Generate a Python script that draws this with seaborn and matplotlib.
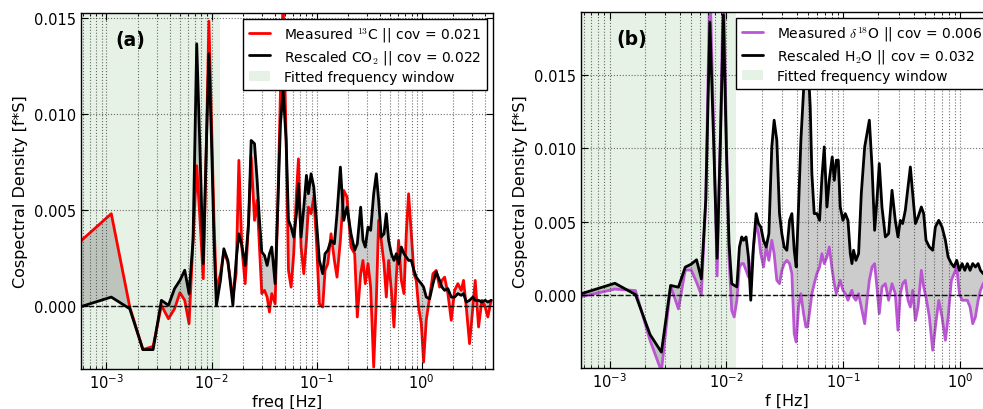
import numpy as np
import pandas as pd
import matplotlib
matplotlib.use('Agg')
import matplotlib.pyplot as plt
from matplotlib.patches import Patch
from matplotlib.lines import Line2D
from matplotlib.ticker import FormatStrFormatter, LogLocator, NullFormatter
import seaborn as sns

# --- data (log10 of frequency in Hz, cospectral density f*S) ---
log_f_a = [
    -3.255, -2.954, -2.778, -2.653, -2.556, -2.477, -2.410, -2.352, -2.301, -2.255,
    -2.214, -2.176, -2.141, -2.109, -2.079, -2.051, -2.025, -2.000, -1.977, -1.954,
    -1.915, -1.883, -1.845, -1.797, -1.766, -1.740, -1.712, -1.680, -1.648, -1.623,
    -1.591, -1.566, -1.544, -1.522, -1.496, -1.471, -1.449, -1.427, -1.395, -1.370,
    -1.344, -1.319, -1.290, -1.268, -1.243, -1.218, -1.192, -1.173, -1.148, -1.122,
    -1.097, -1.078, -1.053, -1.027, -1.002, -0.974, -0.942, -0.920, -0.894, -0.863,
    -0.831, -0.806, -0.774, -0.742, -0.711, -0.673,
    -0.638, -0.613, -0.581, -0.559, -0.537, -0.511, -0.486, -0.457, -0.432, -0.410,
    -0.385, -0.359, -0.337, -0.315, -0.289, -0.264, -0.242, -0.220, -0.194, -0.169,
    -0.147, -0.125, -0.099, -0.074, -0.052, -0.030, -0.004, 0.018, 0.043, 0.075,
    0.107, 0.138, 0.170, 0.192, 0.218, 0.249, 0.281, 0.313, 0.344, 0.376,
    0.398, 0.424, 0.455, 0.487, 0.509, 0.541, 0.572, 0.604, 0.629, 0.661]

c13_measured = [
    0.00332, 0.0048, -0.00007, -0.00229, -0.00212, 0.00002, -0.00068, -0.00016, 0.00068, 0.00028,
    -0.00094, 0.0034, 0.0073, 0.0044, 0.00141, 0.0080, 0.01484, 0.0095, 0.0045, 0.0008,
    0.00167, 0.00280, 0.00228, 0.00045, 0.00167, 0.00758, 0.00306, 0.00115, 0.00428, 0.00775,
    0.00445, 0.00549, 0.00306, 0.00063, 0.00080, 0.00045, -0.00033, 0.00063, 0.00010, 0.00514,
    0.01123, 0.0160, 0.00862, 0.00184, 0.00097, 0.00271, 0.00584, 0.00766, 0.00306, 0.00167,
    0.00341, 0.00514, 0.00480, 0.00567, 0.00341, 0.00010, -0.00007, 0.00184, 0.00219, 0.00375,
    0.00236, 0.00149, 0.00341, 0.00601, 0.00567, 0.00306,
    0.00271, -0.00059, 0.00167, 0.00236, 0.00115, 0.00219, 0.00097, -0.00320, 0.00028, 0.00445,
    0.00341, 0.00219, 0.00045, 0.00236, 0.00080, -0.00111, 0.00149, 0.00341, 0.00132, 0.00063,
    0.00375, 0.00584, 0.00375, 0.00167, 0.00132, -0.00007, -0.00094, -0.00294, -0.00076, 0.00045,
    0.00167, 0.00184, 0.00097, 0.00132, 0.00149, 0.00063, -0.00076, 0.00080, 0.00115, 0.00080,
    0.00132, -0.00007, -0.00198, -0.00007, 0.00132, -0.00111, 0.00028, -0.00007, -0.00059, 0.00028]

co2_rescaled = [
    -0.00007, 0.00045, -0.00016, -0.00229, -0.00229, 0.00028, 0.00002, 0.00089, 0.00132, 0.00185,
    0.00063, 0.0034, 0.01366, 0.0079, 0.00219, 0.0080, 0.01314, 0.0085, 0.0035, 0.0000,
    0.00132, 0.00297, 0.00236, 0.00002, 0.00236, 0.00375, 0.00315, 0.00210, 0.00428, 0.00862,
    0.00845, 0.00653, 0.00445, 0.00280, 0.00262, 0.00210, 0.00271, 0.00306, 0.00115, 0.00514,
    0.00949, 0.01123, 0.00862, 0.00445, 0.00410, 0.00358, 0.00480, 0.00636, 0.00358, 0.00514,
    0.00680, 0.00584, 0.00688, 0.00619, 0.00445, 0.00236, 0.00167, 0.00271, 0.00289, 0.00341,
    0.00323, 0.00480, 0.00723, 0.00445, 0.00514, 0.00375,
    0.00289, 0.00323, 0.00514, 0.00341, 0.00306, 0.00410, 0.00393, 0.00584, 0.00688, 0.00549,
    0.00358, 0.00375, 0.00480, 0.00341, 0.00271, 0.00236, 0.00271, 0.00219, 0.00306, 0.00271,
    0.00254, 0.00236, 0.00236, 0.00184, 0.00149, 0.00132, 0.00115, 0.00097, 0.00045, 0.00036,
    0.00115, 0.00176, 0.00132, 0.00097, 0.00080, 0.00089, 0.00045, 0.00045, 0.00063, 0.00054,
    0.00063, 0.00019, 0.00028, 0.00045, 0.00028, 0.00028, 0.00019, 0.00028, 0.00019, 0.00028]

log_f_b = [
    -3.255, -2.954, -2.778, -2.653, -2.556, -2.477, -2.410, -2.352, -2.301, -2.255,
    -2.214, -2.176, -2.141, -2.109, -2.079, -2.051, -2.025, -2.000, -1.977, -1.954,
    -1.933, -1.910, -1.888, -1.868, -1.853, -1.831, -1.811, -1.791, -1.768, -1.745,
    -1.725, -1.705, -1.682, -1.659, -1.636, -1.611, -1.591, -1.568, -1.545, -1.525,
    -1.505, -1.482, -1.459, -1.439, -1.419, -1.402, -1.382, -1.362, -1.339, -1.319,
    -1.305, -1.282, -1.268, -1.248, -1.225, -1.202, -1.182, -1.162, -1.139, -1.119,
    -1.094, -1.076, -1.059, -1.042, -1.025, -1.002,
    -0.982, -0.959, -0.939, -0.925, -0.911, -0.891, -0.868, -0.845, -0.816, -0.796,
    -0.776, -0.753, -0.731, -0.711, -0.691, -0.668, -0.639, -0.611, -0.582, -0.554,
    -0.531, -0.511, -0.491, -0.468, -0.445, -0.425, -0.405, -0.382, -0.359, -0.331,
    -0.311, -0.291, -0.262, -0.234, -0.211, -0.182, -0.154, -0.125, -0.102, -0.074,
    -0.051, -0.028, -0.005, 0.018, 0.041, 0.063, 0.086, 0.109, 0.132, 0.155,
    0.175, 0.198, 0.225, 0.260, 0.300]

d18o_measured = [
    -0.00014, 0.00040, 0.00030, -0.00310, -0.00520, 0.00060, -0.00095, 0.00170, 0.00170, 0.00087,
    0.00000, 0.00650, 0.02150, 0.01150, 0.00130, 0.01100, 0.02150, 0.01100, 0.00250, -0.00105,
    -0.00150, -0.00036, 0.00191, 0.00214, 0.00214, 0.00168, 0.00123, 0.00146, 0.00327, 0.00487,
    0.00418, 0.00282, 0.00191, 0.00327, 0.00236, 0.00373, 0.00282, 0.00100, 0.00077, 0.00168,
    0.00214, 0.00236, 0.00214, 0.00146, -0.00264, -0.00321, -0.00082, 0.00009, -0.00127, -0.00218,
    -0.00218, -0.00082, 0.00009, 0.00077, 0.00146, 0.00191, 0.00282, 0.00214, 0.00259, 0.00327,
    0.00170, 0.00077, 0.00009, 0.00055, 0.00100, 0.00032,
    0.00009, -0.00036, 0.00009, 0.00032, -0.00014, -0.00036, 0.00009, -0.00082, -0.00196, -0.00036,
    0.00100, 0.00191, 0.00214, 0.00055, -0.00127, 0.00055, 0.00077, -0.00036, 0.00077, 0.00009,
    -0.00241, 0.00009, 0.00077, 0.00100, -0.00036, -0.00082, 0.00032, -0.00173, -0.00082, 0.00168,
    0.00055, -0.00014, -0.00150, -0.00377, -0.00218, -0.00036, -0.00150, -0.00309, -0.00150, 0.00100,
    0.00146, 0.00191, 0.00009, -0.00036, -0.00036, -0.00036, -0.00082, -0.00196, -0.00150, -0.00036,
    0.00032, 0.00077, 0.00100, 0.00020, 0.00060]

h2o_rescaled = [
    0.00005, 0.00080, 0.00003, -0.00270, -0.00390, 0.00065, 0.00053, 0.00190, 0.00210, 0.00240,
    0.00110, 0.00650, 0.01860, 0.01050, 0.00250, 0.01050, 0.01910, 0.01000, 0.00350, 0.00077,
    0.00066, 0.00055, 0.00327, 0.00396, 0.00373, 0.00396, 0.00259, -0.00036, 0.00327, 0.00555,
    0.00487, 0.00464, 0.00373, 0.00327, 0.00418, 0.01010, 0.01192, 0.01055, 0.00555, 0.00418,
    0.00327, 0.00305, 0.00509, 0.00555, 0.00305, 0.00191, 0.00600, 0.01055, 0.01396, 0.01555,
    0.01650, 0.01283, 0.00828, 0.00555, 0.00555, 0.00509, 0.00800, 0.01010, 0.00600, 0.00782,
    0.00941, 0.00782, 0.00919, 0.00919, 0.00600, 0.00509,
    0.00555, 0.00509, 0.00282, 0.00214, 0.00305, 0.00236, 0.00282, 0.00691, 0.01010, 0.01101,
    0.01192, 0.00873, 0.00441, 0.00646, 0.00896, 0.00600, 0.00396, 0.00418, 0.00714, 0.00509,
    0.00396, 0.00509, 0.00487, 0.00578, 0.00737, 0.00873, 0.00691, 0.00487, 0.00532, 0.00600,
    0.00555, 0.00373, 0.00327, 0.00305, 0.00464, 0.00509, 0.00464, 0.00373, 0.00259, 0.00214,
    0.00191, 0.00236, 0.00168, 0.00214, 0.00168, 0.00214, 0.00168, 0.00214, 0.00191, 0.00214,
    0.00168, 0.00146, 0.00130, 0.00150, 0.00120]

window_hi = 0.012  # upper edge of the fitted frequency window [Hz]

labels_a = [r'Measured $^{13}$C || cov = 0.021', r'Rescaled CO$_2$ || cov = 0.022']
labels_b = [r'Measured $\delta^{18}$O || cov = 0.006', r'Rescaled H$_2$O || cov = 0.032']

# --- style ---
sns.set_style('white')
plt.rcParams.update({
    'font.family': ['DejaVu Sans'],
    'mathtext.fontset': 'cm',
    'axes.edgecolor': 'k',
    'axes.linewidth': 1.0,
    'xtick.direction': 'in',
    'ytick.direction': 'in',
    'xtick.top': True,
    'ytick.right': True,
    'xtick.bottom': True,
    'ytick.left': True,
    'xtick.major.size': 5,
    'xtick.minor.size': 2.5,
    'ytick.major.size': 5,
    'xtick.major.pad': 2.5,
    'xtick.color': 'k',
    'ytick.color': 'k',
    'text.color': 'k',
    'axes.labelcolor': 'k',
})

fig = plt.figure(figsize=(9.83, 4.10), dpi=100)
ax_a = fig.add_axes([0.0821, 0.0976, 0.4194, 0.868])
ax_b = fig.add_axes([0.5907, 0.0993, 0.4205, 0.8683])


def draw_panel(ax, log_f, measured, rescaled, color, labels, xlim, ylim, xlabel, tag, tag_x):
    df = pd.DataFrame({'freq': 10 ** np.array(log_f), 'measured': measured, 'rescaled': rescaled})
    ax.set_xscale('log')
    ax.axvspan(xlim[0] * 0.5, window_hi, color='green', alpha=0.1, lw=0, zorder=0)
    ax.fill_between(df['freq'], df['measured'], df['rescaled'], color='gray', alpha=0.4, lw=0, zorder=1)
    sns.lineplot(data=df, x='freq', y='measured', ax=ax, color=color, lw=2,
                 estimator=None, sort=False, zorder=2)
    sns.lineplot(data=df, x='freq', y='rescaled', ax=ax, color='k', lw=2,
                 estimator=None, sort=False, zorder=3)
    ax.axhline(0, color='k', ls='--', lw=1, zorder=2.5)

    ax.set_xlim(xlim)
    ax.set_ylim(ylim)
    ax.set_yticks([0.0, 0.005, 0.010, 0.015])
    ax.yaxis.set_major_formatter(FormatStrFormatter('%.3f'))
    ax.xaxis.set_major_locator(LogLocator(base=10))
    ax.xaxis.set_minor_locator(LogLocator(base=10, subs=np.arange(2, 10)))
    ax.xaxis.set_minor_formatter(NullFormatter())
    ax.tick_params(labelsize=10.5)
    ax.grid(True, which='major', axis='both', ls=':', color='0.2', lw=0.8, alpha=0.7)
    ax.grid(True, which='minor', axis='x', ls=':', color='0.2', lw=0.8, alpha=0.7)
    ax.set_axisbelow(False)

    ax.set_xlabel(xlabel, fontsize=11.5, labelpad=2)
    ax.set_ylabel('Cospectral Density [f*S]', fontsize=11.5)
    ax.text(tag_x, 0.927, tag, transform=ax.transAxes, fontsize=13.5,
            fontweight='bold', ha='center', va='center')

    handles = [Line2D([], [], color=color, lw=2), Line2D([], [], color='k', lw=2),
               Patch(facecolor='green', alpha=0.1, edgecolor='none')]
    leg = ax.legend(handles, labels + ['Fitted frequency window'], loc='upper right',
                    fontsize=10, fancybox=False, framealpha=1, edgecolor='k',
                    borderaxespad=0.4, borderpad=0.45, handlelength=1.5,
                    handletextpad=1.0, labelspacing=0.3)
    leg.get_frame().set_linewidth(1.0)
    leg.set_zorder(10)


draw_panel(ax_a, log_f_a, c13_measured, co2_rescaled, 'red', labels_a,
           (10 ** -3.245, 10 ** 0.678), (-0.0033, 0.01526), 'freq [Hz]', '(a)', 0.121)
draw_panel(ax_b, log_f_b, d18o_measured, h2o_rescaled, 'mediumorchid', labels_b,
           (10 ** -3.247, 10 ** 0.291), (-0.0050, 0.01928), 'f [Hz]', '(b)', 0.124)

fig.savefig('out.png', dpi=100)
